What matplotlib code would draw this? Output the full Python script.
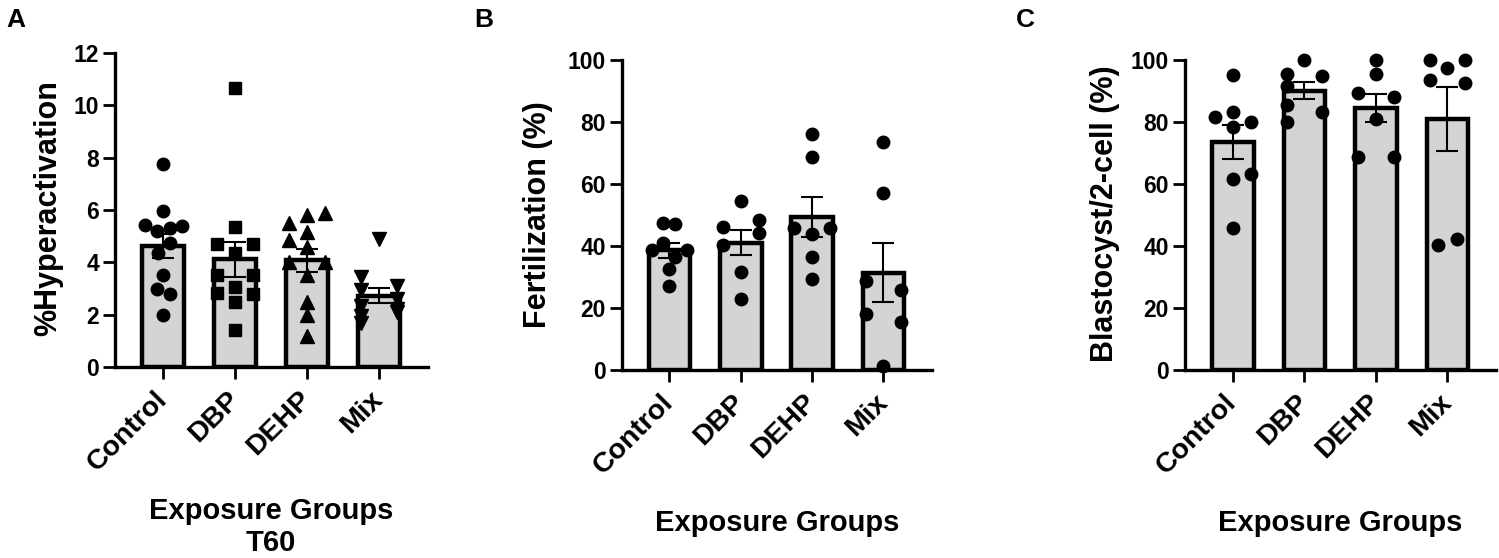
import numpy as np
import matplotlib
matplotlib.use('Agg')
import matplotlib.pyplot as plt

plt.rcParams['font.family'] = ['Liberation Sans', 'DejaVu Sans']
plt.rcParams['font.weight'] = 'bold'

groups = ['Control', 'DBP', 'DEHP', 'Mix']

# A : %Hyperactivation at T60
hyper_control = [7.76, 5.96, 5.43, 5.39, 5.21, 5.3, 4.73, 4.34, 3.52, 3.0, 2.79, 1.99]
hyper_dbp = [10.65, 5.34, 4.7, 4.7, 4.37, 3.52, 3.5, 3.07, 2.82, 2.8, 2.47, 1.41]
hyper_dehp = [5.87, 5.81, 5.51, 5.17, 4.85, 4.6, 4.0, 4.0, 3.52, 2.5, 1.99, 1.2]
hyper_mix = [4.9, 3.45, 3.1, 2.95, 2.6, 2.35, 2.2, 1.95, 1.7, 2.1]

# B : fertilization (%)
fert_control = [47.3, 47.1, 40.9, 38.7, 38.7, 36.3, 32.5, 27.1]
fert_dbp = [54.6, 48.4, 46.0, 44.1, 40.2, 31.5, 22.9]
fert_dehp = [76.1, 68.6, 45.7, 45.7, 43.8, 36.3, 29.4]
fert_mix = [73.4, 57.0, 28.8, 25.8, 18.0, 15.6, 1.4]

# C : blastocyst / 2-cell (%)
blast_control = [95.2, 81.7, 83.3, 80.1, 78.3, 63.2, 61.5, 45.9]
blast_dbp = [100, 95.5, 94.8, 91.6, 85.5, 83.2, 80.1]
blast_dehp = [100, 95.5, 89.5, 88.2, 80.9, 68.8, 68.8]
blast_mix = [100, 100, 97.3, 93.5, 92.7, 42.2, 40.3]

# horizontal scatter of the dots inside each bar (category units)
jit_a = [[0, 0, -.25, .26, -.09, .09, .09, -.07, 0, -.09, .09, 0],
         [0, 0, -.25, .25, 0, -.25, .25, 0, -.25, .25, 0, 0],
         [.25, 0, -.25, 0, -.25, 0, -.25, .25, 0, 0, 0, 0],
         [0, -.25, .25, -.25, .25, -.25, .25, -.25, -.25, .25]]
jit_b = [[-.09, .08, -.09, -.25, .25, .08, 0, 0],
         [0, .25, -.25, .25, -.25, 0, 0],
         [0, 0, -.25, .25, 0, 0, 0],
         [0, 0, -.25, .25, -.25, .25, 0]]
jit_c = [[0, -.25, 0, .25, 0, .25, 0, 0],
         [0, -.25, .25, -.25, -.25, .25, -.25],
         [0, 0, -.25, .25, 0, -.25, .25],
         [-.25, .25, 0, -.25, .25, .13, -.13]]

W, H = 1499, 558
fig = plt.figure(figsize=(W / 100, H / 100), dpi=100)


def panel(rect, data, jit, markers, ylim, yticks):
    ax = fig.add_axes(rect)
    x = np.arange(len(groups))
    means = [np.mean(d) for d in data]
    sems = [np.std(d, ddof=1) / np.sqrt(len(d)) for d in data]
    ax.bar(x, means, width=0.58, color='#d4d4d4', edgecolor='black', linewidth=3.2, zorder=2)
    ax.errorbar(x, means, yerr=sems, fmt='none', ecolor='black', elinewidth=1.5,
                capsize=8, capthick=1.5, zorder=3)
    for i, d in enumerate(data):
        xs = i + np.array(jit[i])
        ms = 9 if markers[i] == 'o' else 8.5
        if markers[i] in ('^', 'v'):
            ms = 10
        ax.plot(xs, d, linestyle='none', marker=markers[i], color='black',
                markersize=ms, zorder=4, clip_on=False)
    ax.set_xlim(-0.67, 3.68)
    ax.set_ylim(*ylim)
    ax.set_yticks(yticks)
    ax.set_xticks(x)
    ax.set_xticklabels(groups, rotation=45, ha='right', va='center',
                       rotation_mode='anchor', fontsize=20.5, fontweight='bold')
    for lab in ax.get_yticklabels():
        lab.set_fontsize(16.5)
        lab.set_fontweight('bold')
    ax.spines['top'].set_visible(False)
    ax.spines['right'].set_visible(False)
    ax.spines['left'].set_linewidth(2.4)
    ax.spines['bottom'].set_linewidth(2.4)
    ax.tick_params(axis='both', length=8.5, width=2, color='black')
    ax.tick_params(axis='x', pad=12)
    ax.tick_params(axis='y', pad=3)
    return ax


panel([115 / W, 1 - 367 / H, (428 - 115) / W, (367 - 53) / H],
      [hyper_control, hyper_dbp, hyper_dehp, hyper_mix], jit_a,
      ['o', 's', '^', 'v'], (0, 12), range(0, 13, 2))
panel([621.7 / W, 1 - 370 / H, (932 - 621.7) / W, 310 / H],
      [fert_control, fert_dbp, fert_dehp, fert_mix], jit_b,
      ['o'] * 4, (0, 100), range(0, 101, 20))
panel([1185 / W, 1 - 370 / H, (1496 - 1185) / W, 310 / H],
      [blast_control, blast_dbp, blast_dehp, blast_mix], jit_c,
      ['o'] * 4, (0, 100), range(0, 101, 20))

# axis titles
fig.text(48 / W, 1 - 208 / H, '%Hyperactivation', rotation=90, ha='center', va='center',
         fontsize=22, fontweight='bold')
fig.text(538 / W, 1 - 215 / H, 'Fertilization (%)', rotation=90, ha='center', va='center',
         fontsize=22, fontweight='bold')
fig.text(1105 / W, 1 - 214 / H, 'Blastocyst/2-cell (%)', rotation=90, ha='center', va='center',
         fontsize=22, fontweight='bold')

fig.text(271 / W, 1 - 511 / H, 'Exposure Groups', ha='center', va='center', fontsize=21, fontweight='bold')
fig.text(271 / W, 1 - 543 / H, 'T60', ha='center', va='center', fontsize=21, fontweight='bold')
fig.text(777 / W, 1 - 523 / H, 'Exposure Groups', ha='center', va='center', fontsize=21, fontweight='bold')
fig.text(1340 / W, 1 - 523 / H, 'Exposure Groups', ha='center', va='center', fontsize=21, fontweight='bold')

# panel letters
fig.text(6 / W, 1 - 20 / H, 'A', ha='left', va='center', fontsize=19, fontweight='bold')
fig.text(474 / W, 1 - 20 / H, 'B', ha='left', va='center', fontsize=19, fontweight='bold')
fig.text(1016 / W, 1 - 20 / H, 'C', ha='left', va='center', fontsize=19, fontweight='bold')

plt.savefig('out.png', dpi=100)
